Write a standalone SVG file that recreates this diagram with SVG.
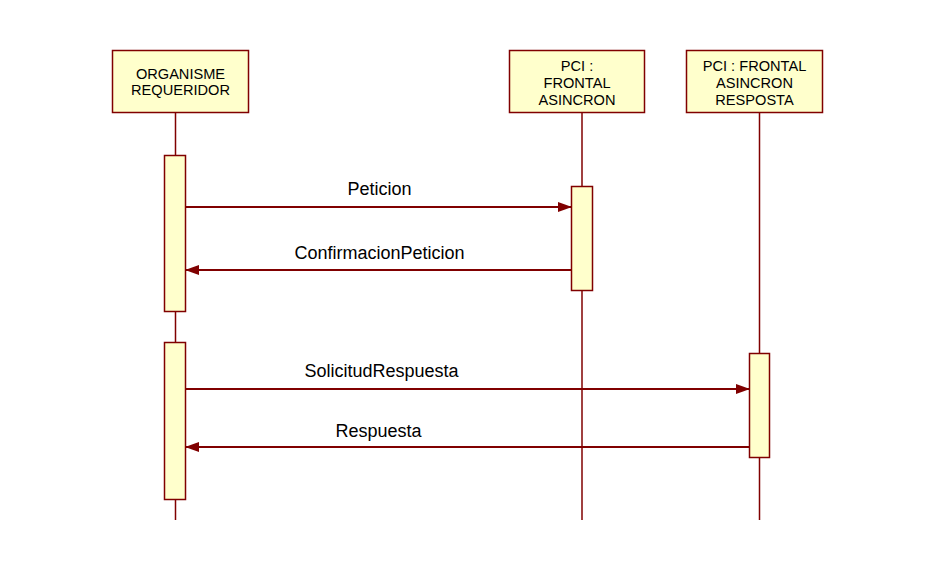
<svg xmlns="http://www.w3.org/2000/svg" width="933" height="582" viewBox="0 0 933 582">
<style>
.box{fill:#FFFFCC;stroke:#800000;stroke-width:1.5}
.life{stroke:#800000;stroke-width:1.5;fill:none}
.msg{stroke:#800000;stroke-width:2;fill:none}
.t{font-family:"Liberation Sans",Arial,sans-serif;font-size:14.6px;fill:#000;text-anchor:middle}
.m{font-family:"Liberation Sans",Arial,sans-serif;font-size:18px;fill:#000;text-anchor:middle}
</style>
<defs>
<marker id="ah" markerWidth="14" markerHeight="10" refX="13" refY="5" orient="auto" markerUnits="userSpaceOnUse">
<path d="M0,0 L14,5 L0,10 Z" fill="#800000"/>
</marker>
</defs>
<rect width="933" height="582" fill="#fff"/>
<g id="lifelines">
<line class="life" x1="175.5" y1="113" x2="175.5" y2="520"/>
<line class="life" x1="582" y1="113" x2="582" y2="520"/>
<line class="life" x1="759.5" y1="113" x2="759.5" y2="520"/>
</g>
<g id="organisme">
<rect class="box" x="112.5" y="50.5" width="136" height="62"/>
<text class="t" x="180.5" y="79">ORGANISME</text>
<text class="t" x="180.5" y="95">REQUERIDOR</text>
<rect class="box" x="164.5" y="155.5" width="21" height="156"/>
<rect class="box" x="164.5" y="342.5" width="21" height="157"/>
</g>
<g id="frontal">
<rect class="box" x="509.5" y="50.5" width="135" height="62"/>
<text class="t" x="577" y="71">PCI :</text>
<text class="t" x="577" y="88">FRONTAL</text>
<text class="t" x="577" y="105">ASINCRON</text>
<rect class="box" x="571.5" y="186.5" width="21" height="104"/>
</g>
<g id="resposta">
<rect class="box" x="686.5" y="50.5" width="136" height="62"/>
<text class="t" x="754.5" y="71">PCI : FRONTAL</text>
<text class="t" x="754.5" y="88">ASINCRON</text>
<text class="t" x="754.5" y="105">RESPOSTA</text>
<rect class="box" x="749.5" y="353.5" width="20" height="104"/>
</g>
<g id="connectors">
<line class="msg" x1="186" y1="207" x2="571" y2="207" marker-end="url(#ah)"/>
<text class="m" x="379.5" y="195">Peticion</text>
<line class="msg" x1="571" y1="270" x2="186" y2="270" marker-end="url(#ah)"/>
<text class="m" x="379.5" y="259">ConfirmacionPeticion</text>
<line class="msg" x1="186" y1="389" x2="749" y2="389" marker-end="url(#ah)"/>
<text class="m" x="381.5" y="377">SolicitudRespuesta</text>
<line class="msg" x1="749" y1="447" x2="186" y2="447" marker-end="url(#ah)"/>
<text class="m" x="378.5" y="437">Respuesta</text>
</g>
</svg>
